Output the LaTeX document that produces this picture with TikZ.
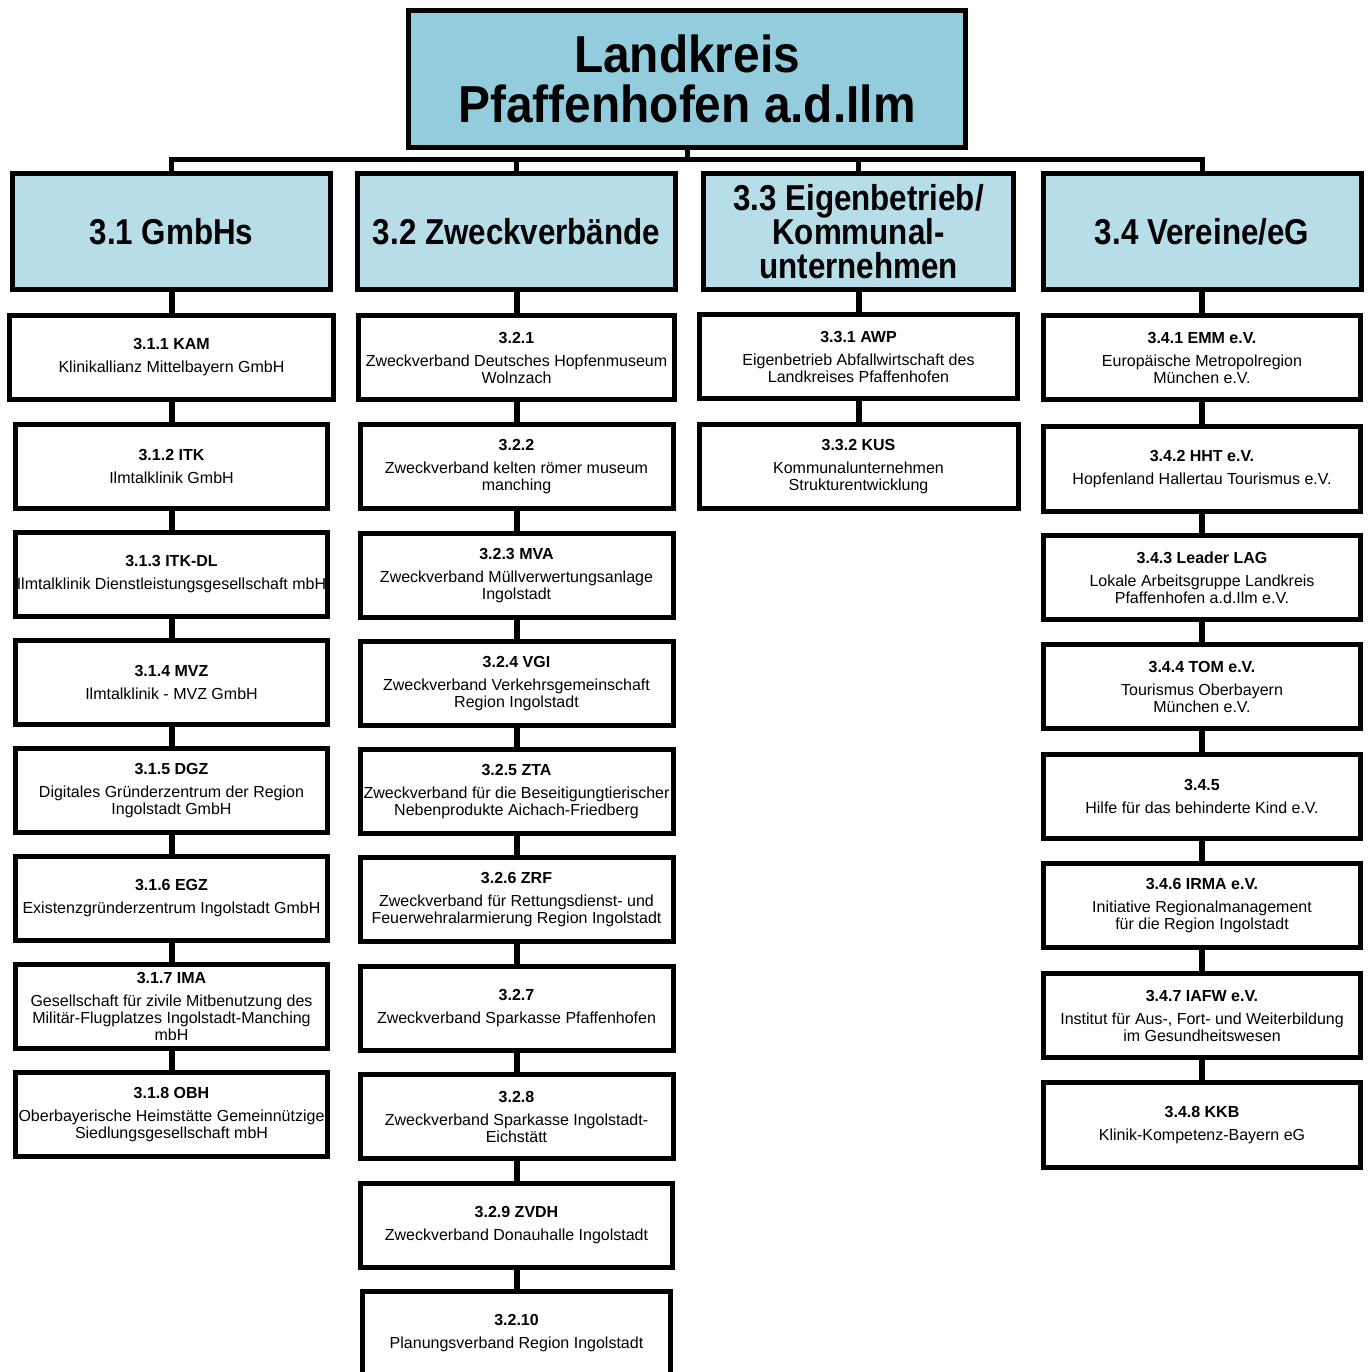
\documentclass[tikz,border=0pt]{standalone}
\usepackage{fontspec}
\setmainfont{Liberation Sans}
\newfontfamily\titlefont{Liberation Sans}[FakeStretch=0.92]
\newfontfamily\headfont{Liberation Sans}[FakeStretch=0.87]
\usepackage{xcolor}
\usepackage{tikz}
\usetikzlibrary{positioning}
\definecolor{topblue}{HTML}{93CDDD}
\definecolor{headblue}{HTML}{B7DEE8}
\tikzset{
  topbox/.style={draw=black,line width=5pt,fill=topblue,minimum width=557pt,minimum height=137pt,align=center,inner sep=0pt,
    font=\titlefont\bfseries\fontsize{52}{50}\selectfont},
  headbox/.style={draw=black,line width=5pt,fill=headblue,minimum width=318pt,minimum height=116pt,align=center,inner sep=0pt,
    font=\headfont\bfseries\fontsize{36}{34}\selectfont},
  unitbox/.style={draw=black,line width=5pt,fill=white,minimum width=312pt,minimum height=84pt,align=center,inner sep=0pt,
    font=\fontsize{16}{17}\selectfont},
  link/.style={line width=6pt,black},
  bus/.style={line width=5pt,black,line cap=rect}
}
\begin{document}
\begin{tikzpicture}[x=1pt,y=-1pt]
		\useasboundingbox (0,0) rectangle (1369,1372);
		% Landkreis
		\node[topbox] (lk) at (687,79) {Landkreis\\Pfaffenhofen a.d.Ilm};
		% Bereiche
		\node[headbox] (g) at (171.5,231.5) {3.1 GmbHs};
		\node[headbox] (z) at (516.5,231.5) {3.2 Zweckverbände};
		\node[headbox,minimum width=310pt] (e) at (858.5,231.5) {3.3 Eigenbetrieb/\\Kommunal-\\unternehmen};
		\node[headbox] (v) at (1202,231.5) {3.4 Vereine/eG};
		\coordinate (busL) at (171.5,160);
		\coordinate (busR) at (1202,160);
		\coordinate (busM) at (687,160);
		\draw[bus] (lk.south) -- (busM);
		\draw[bus] (busL) -- (busR);
		\draw[bus] (g.north) -- (busL) (v.north) -- (busR);
		\draw[bus] (z.north) -- (z.north |- busM) (e.north) -- (e.north |- busM);
		% 3.1 GmbHs
		\node[unitbox,minimum width=324pt] (g1) at (171.5,357.5) {\textbf{3.1.1 KAM}\\[6pt]Klinikallianz Mittelbayern GmbH};
		\node[unitbox] (g2) at (171.5,466) {\textbf{3.1.2 ITK}\\[6pt]Ilmtalklinik GmbH};
		\node[unitbox] (g3) at (171.5,574.5) {\textbf{3.1.3 ITK-DL}\\[6pt]Ilmtalklinik Dienstleistungsgesellschaft mbH};
		\node[unitbox] (g4) at (171.5,682.5) {\textbf{3.1.4 MVZ}\\[6pt]Ilmtalklinik - MVZ GmbH};
		\node[unitbox] (g5) at (171.5,790.5) {\textbf{3.1.5 DGZ}\\[6pt]Digitales Gründerzentrum der Region\\Ingolstadt GmbH};
		\node[unitbox] (g6) at (171.5,898.5) {\textbf{3.1.6 EGZ}\\[6pt]Existenzgründerzentrum Ingolstadt GmbH};
		\node[unitbox] (g7) at (171.5,1006.5) {\textbf{3.1.7 IMA}\\[6pt]Gesellschaft für zivile Mitbenutzung des\\Militär-Flugplatzes Ingolstadt-Manching\\mbH};
		\node[unitbox] (g8) at (171.5,1114.5) {\textbf{3.1.8 OBH}\\[6pt]Oberbayerische Heimstätte Gemeinnützige\\Siedlungsgesellschaft mbH};
		% 3.2 Zweckverbaende
		\node[unitbox,minimum width=316pt] (z1) at (516.5,357.5) {\textbf{3.2.1}\\[6pt]Zweckverband Deutsches Hopfenmuseum\\Wolnzach};
		\node[unitbox,minimum width=313pt] (z2) at (516.5,466.5) {\textbf{3.2.2}\\[6pt]Zweckverband kelten römer museum\\manching};
		\node[unitbox,minimum width=313pt] (z3) at (516.5,575.5) {\textbf{3.2.3 MVA}\\[6pt]Zweckverband Müllverwertungsanlage\\Ingolstadt};
		\node[unitbox,minimum width=313pt] (z4) at (516.5,683.5) {\textbf{3.2.4 VGI}\\[6pt]Zweckverband Verkehrsgemeinschaft\\Region Ingolstadt};
		\node[unitbox,minimum width=313pt] (z5) at (516.5,791.5) {\textbf{3.2.5 ZTA}\\[6pt]Zweckverband für die Beseitigungtierischer\\Nebenprodukte Aichach-Friedberg};
		\node[unitbox,minimum width=313pt] (z6) at (516.5,899.5) {\textbf{3.2.6 ZRF}\\[6pt]Zweckverband für Rettungsdienst- und\\Feuerwehralarmierung Region Ingolstadt};
		\node[unitbox,minimum width=313pt] (z7) at (516.5,1008.5) {\textbf{3.2.7}\\[6pt]Zweckverband Sparkasse Pfaffenhofen};
		\node[unitbox,minimum width=313pt] (z8) at (516.5,1116.5) {\textbf{3.2.8}\\[6pt]Zweckverband Sparkasse Ingolstadt-\\Eichstätt};
		\node[unitbox,minimum width=312pt] (z9) at (516.5,1225) {\textbf{3.2.9 ZVDH}\\[6pt]Zweckverband Donauhalle Ingolstadt};
		\node[unitbox,minimum width=308pt] (z10) at (516.5,1333.5) {\textbf{3.2.10}\\[6pt]Planungsverband Region Ingolstadt};
		% 3.3 Eigenbetrieb
		\node[unitbox,minimum width=318pt] (e1) at (858.5,356.5) {\textbf{3.3.1 AWP}\\[6pt]Eigenbetrieb Abfallwirtschaft des\\Landkreises Pfaffenhofen};
		\node[unitbox,minimum width=319pt] (e2) at (858.5,466.5) {\textbf{3.3.2 KUS}\\[6pt]Kommunalunternehmen\\Strukturentwicklung};
		% 3.4 Vereine/eG
		\node[unitbox,minimum width=317pt] (v1) at (1202,357.5) {\textbf{3.4.1 EMM e.V.}\\[6pt]Europäische Metropolregion\\München e.V.};
		\node[unitbox,minimum width=317pt,minimum height=85pt] (v2) at (1202,469) {\textbf{3.4.2 HHT e.V.}\\[6pt]Hopfenland Hallertau Tourismus e.V.};
		\node[unitbox,minimum width=317pt] (v3) at (1202,577.5) {\textbf{3.4.3 Leader LAG}\\[6pt]Lokale Arbeitsgruppe Landkreis\\Pfaffenhofen a.d.Ilm e.V.};
		\node[unitbox,minimum width=317pt] (v4) at (1202,686.5) {\textbf{3.4.4 TOM e.V.}\\[6pt]Tourismus Oberbayern\\München e.V.};
		\node[unitbox,minimum width=317pt] (v5) at (1202,796.5) {\textbf{3.4.5}\\[6pt]Hilfe für das behinderte Kind e.V.};
		\node[unitbox,minimum width=317pt] (v6) at (1202,905.5) {\textbf{3.4.6 IRMA e.V.}\\[6pt]Initiative Regionalmanagement\\für die Region Ingolstadt};
		\node[unitbox,minimum width=317pt] (v7) at (1202,1015.5) {\textbf{3.4.7 IAFW e.V.}\\[6pt]Institut für Aus-, Fort- und Weiterbildung\\im Gesundheitswesen};
		\node[unitbox,minimum width=317pt,minimum height=85pt] (v8) at (1202,1125) {\textbf{3.4.8 KKB}\\[6pt]Klinik-Kompetenz-Bayern eG};
		% Verbindungen
		\draw[link] (g.south) -- (g1.north) (g1.south) -- (g2.north) (g2.south) -- (g3.north) (g3.south) -- (g4.north)
			(g4.south) -- (g5.north) (g5.south) -- (g6.north) (g6.south) -- (g7.north) (g7.south) -- (g8.north);
		\draw[link] (z.south) -- (z1.north) (z1.south) -- (z2.north) (z2.south) -- (z3.north) (z3.south) -- (z4.north)
			(z4.south) -- (z5.north) (z5.south) -- (z6.north) (z6.south) -- (z7.north) (z7.south) -- (z8.north)
			(z8.south) -- (z9.north) (z9.south) -- (z10.north);
		\draw[link] (e.south) -- (e1.north) (e1.south) -- (e2.north);
		\draw[link] (v.south) -- (v1.north) (v1.south) -- (v2.north) (v2.south) -- (v3.north) (v3.south) -- (v4.north)
			(v4.south) -- (v5.north) (v5.south) -- (v6.north) (v6.south) -- (v7.north) (v7.south) -- (v8.north);
	\end{tikzpicture}
\end{document}
